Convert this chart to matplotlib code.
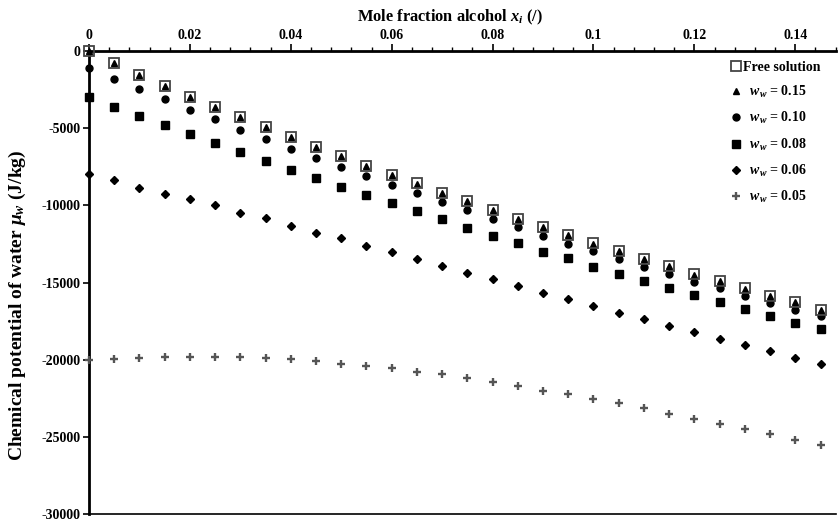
import numpy as np
import matplotlib
matplotlib.use("Agg")
import matplotlib.pyplot as plt
from matplotlib.ticker import MultipleLocator

plt.rcParams["font.family"] = ["Liberation Serif", "DejaVu Serif"]
plt.rcParams["font.weight"] = "bold"
plt.rcParams["axes.unicode_minus"] = False
plt.rcParams["mathtext.fontset"] = "custom"
plt.rcParams["mathtext.rm"] = "Liberation Serif:bold"
plt.rcParams["mathtext.it"] = "Liberation Serif:italic:bold"
plt.rcParams["mathtext.bf"] = "Liberation Serif:bold"

# mole fraction alcohol
x = np.arange(30) * 0.005

free_solution = [0, -770, -1550, -2260, -2970, -3610, -4260, -4900, -5550, -6190,
                 -6820, -7420, -8040, -8580, -9180, -9700, -10300, -10860, -11370, -11940,
                 -12470, -12950, -13480, -13920, -14470, -14900, -15380, -15850, -16280, -16760]
ww_015 = [0, -780, -1560, -2270, -2980, -3620, -4270, -4910, -5560, -6200,
          -6830, -7430, -8050, -8590, -9190, -9710, -10310, -10870, -11380, -11950,
          -12480, -12960, -13490, -13930, -14480, -14910, -15390, -15860, -16290, -16770]
ww_010 = [-1120, -1810, -2480, -3110, -3800, -4400, -5090, -5710, -6320, -6920,
          -7530, -8070, -8670, -9210, -9810, -10330, -10890, -11420, -11960, -12480,
          -12950, -13480, -13980, -14470, -14950, -15380, -15850, -16320, -16770, -17200]
ww_008 = [-3000, -3650, -4200, -4780, -5400, -5940, -6560, -7100, -7700, -8240,
          -8790, -9330, -9820, -10360, -10900, -11440, -11980, -12430, -13000, -13430,
          -13970, -14420, -14880, -15350, -15800, -16280, -16730, -17180, -17640, -18030]
ww_006 = [-7980, -8370, -8850, -9240, -9600, -9990, -10470, -10840, -11310, -11770,
          -12130, -12610, -13000, -13450, -13910, -14360, -14750, -15200, -15660, -16040,
          -16520, -16970, -17340, -17810, -18200, -18630, -19040, -19430, -19880, -20250]
ww_005 = [-20030, -19950, -19860, -19800, -19800, -19800, -19800, -19860, -19950, -20080,
          -20250, -20400, -20550, -20770, -20920, -21160, -21460, -21680, -22000, -22220,
          -22540, -22820, -23140, -23510, -23830, -24160, -24500, -24830, -25190, -25520]

fig = plt.figure(figsize=(8.38, 5.24), dpi=100)
ax = fig.add_axes([0.1062, 0.019, 0.891, 0.8836])

ax.plot(x, ww_015, "^", color="black", markersize=5, label=r"  $w_w$ = 0.15", clip_on=False, zorder=3)
ax.plot(x, free_solution, "s", markerfacecolor="none", markeredgecolor="#444444",
        markeredgewidth=1.3, markersize=7, label="Free solution", clip_on=False, zorder=4)
ax.plot(x, ww_010, "o", color="black", markersize=5, label=r"  $w_w$ = 0.10", clip_on=False, zorder=3)
ax.plot(x, ww_008, "s", color="black", markersize=5.5, label=r"  $w_w$ = 0.08", clip_on=False, zorder=3)
ax.plot(x, ww_006, "D", color="black", markersize=4.5, label=r"  $w_w$ = 0.06", clip_on=False, zorder=3)
ax.plot(x, ww_005, "+", color="#555555", markersize=5.5, markeredgewidth=1.7,
        label=r"  $w_w$ = 0.05", clip_on=False, zorder=3)

ax.set_xlim(0, 0.148)
ax.set_ylim(-30000, 0)

ax.xaxis.set_ticks_position("top")
ax.xaxis.set_label_position("top")
ax.xaxis.set_minor_locator(MultipleLocator(0.004))
ax.set_xticks(np.arange(0, 0.141, 0.02))
ax.set_xticklabels(["0", "0.02", "0.04", "0.06", "0.08", "0.1", "0.12", "0.14"])
ax.yaxis.set_major_locator(MultipleLocator(5000))
ax.tick_params(axis="x", which="major", direction="out", length=5, width=1.2, labelsize=10, pad=1.5)
ax.tick_params(axis="x", which="minor", direction="out", length=3, width=1)
ax.tick_params(axis="y", direction="out", length=4, width=1.2, labelsize=10, pad=2)

ax.spines["right"].set_visible(False)
ax.spines["top"].set_linewidth(2)
ax.spines["left"].set_linewidth(2)
ax.spines["bottom"].set_linewidth(1.2)

ax.set_xlabel(r"Mole fraction alcohol $x_i$ (/)", fontsize=11.75, fontweight="bold")
ax.xaxis.set_label_coords(0.483, 1.064)
ax.set_ylabel(r"Chemical potential of water $\mu_w$ (J/kg)", fontsize=14, fontweight="bold")
ax.yaxis.set_label_coords(-0.082, 0.451)

handles, labels = ax.get_legend_handles_labels()
order = [1, 0, 2, 3, 4, 5]
ax.legend([handles[i] for i in order], [labels[i] for i in order],
          loc="upper right", bbox_to_anchor=(0.987, 0.99), frameon=False,
          prop={"weight": "bold", "size": 10}, handlelength=0.8, handletextpad=0.1,
          labelspacing=0.72, borderaxespad=0)

fig.savefig("out.png", dpi=100)
plt.close(fig)
